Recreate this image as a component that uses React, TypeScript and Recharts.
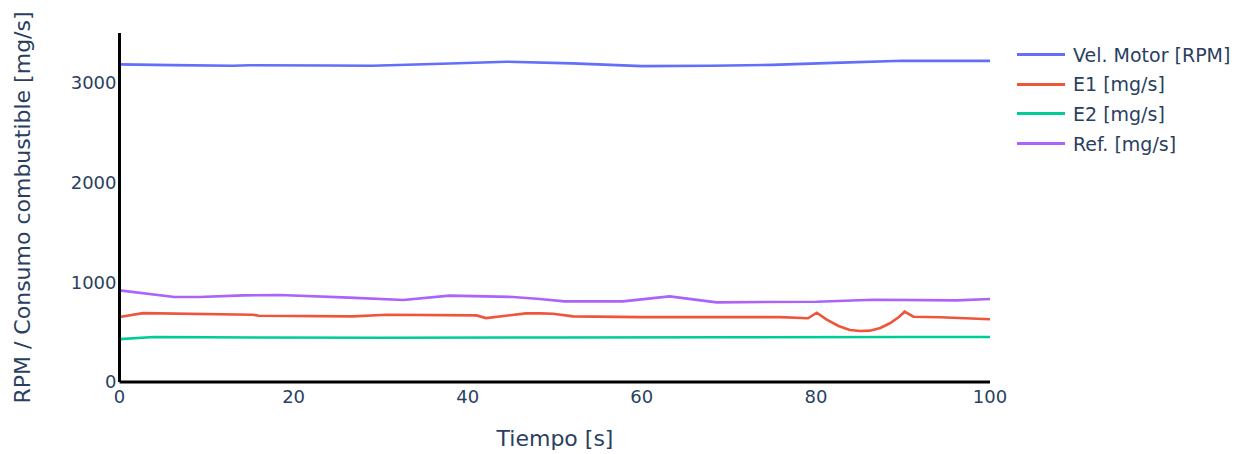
import { LineChart, Line, XAxis, YAxis, Label } from 'recharts';

// tiempo [s] y valores de cada serie
const velTime = [0, 6, 13, 15, 24, 29, 37, 44.5, 52, 60, 68, 75, 82, 90, 100];
const velValues = [3185, 3178, 3172, 3176, 3174, 3172, 3192, 3212, 3195, 3168, 3172, 3180, 3200, 3222, 3220];

const e1Time = [0, 2.7, 15.3, 16, 26.8, 30.7, 41, 42.1, 46.7, 48.3, 49.8, 52.1, 59.8, 75.9, 79.1, 80.1, 81.2, 82.6, 83.9, 85.1, 86.2, 87.4, 88.5, 89.5, 90.2, 91.2, 94.3, 100];
const e1Values = [651, 691, 675, 664, 658, 675, 668, 641, 688, 688, 685, 658, 651, 651, 639, 695, 629, 562, 522, 512, 515, 542, 589, 649, 705, 655, 649, 630];

const e2Time = [0, 4, 16, 30, 50, 70, 90, 100];
const e2Values = [430, 452, 446, 444, 447, 449, 451, 451];

const refTime = [0, 6.3, 9.2, 14.2, 18.4, 26.4, 32.6, 37.9, 45.2, 48.3, 51.1, 57.8, 63.2, 68.6, 80.1, 86.6, 96.2, 100];
const refValues = [919, 853, 853, 869, 872, 846, 822, 866, 853, 832, 809, 809, 859, 799, 805, 825, 819, 832];

const xTicks = [0, 20, 40, 60, 80, 100];
const yTicks = [0, 1000, 2000, 3000];

const toPoints = (time: number[], values: number[]) => time.map((t, i) => ({ t, v: values[i] }));

const series = [
  { name: 'Vel. Motor [RPM]', color: '#636efa', data: toPoints(velTime, velValues) },
  { name: 'E1 [mg/s]', color: '#ef553b', data: toPoints(e1Time, e1Values) },
  { name: 'E2 [mg/s]', color: '#00cc96', data: toPoints(e2Time, e2Values) },
  { name: 'Ref. [mg/s]', color: '#ab63fa', data: toPoints(refTime, refValues) },
];

const FONT = '"DejaVu Sans", Verdana, sans-serif';
const TEXT = '#2a3f5f';

export default function App() {
  return (
    <div style={{ position: 'absolute', left: 0, top: 0, width: 1244, height: 454, background: '#fff' }}>
      <LineChart width={1244} height={454} margin={{ top: 33, right: 254, bottom: 0, left: 0 }}>
        <XAxis
          dataKey="t"
          type="number"
          domain={[0, 100]}
          ticks={xTicks}
          interval={0}
          height={72}
          tickLine={false}
          tickSize={0}
          tickMargin={8}
          axisLine={{ stroke: '#000', strokeWidth: 3 }}
          tick={{ fill: TEXT, fontSize: 18, fontFamily: FONT }}
          allowDuplicatedCategory={false}
        >
          <Label
            content={() => (
              <text x={555} y={446} textAnchor="middle" fill={TEXT} fontSize={22} fontFamily={FONT}>
                Tiempo [s]
              </text>
            )}
          />
        </XAxis>
        <YAxis
          type="number"
          domain={[0, 3500]}
          ticks={yTicks}
          interval={0}
          width={119.5}
          tickLine={false}
          tickSize={0}
          tickMargin={3}
          axisLine={{ stroke: '#000', strokeWidth: 3 }}
          tick={{ fill: TEXT, fontSize: 18, fontFamily: FONT }}
        >
          <Label
            content={() => (
              <text
                x={22}
                y={207.5}
                transform="rotate(-90, 22, 207.5)"
                textAnchor="middle"
                dominantBaseline="central"
                fill={TEXT}
                fontSize={22}
                fontFamily={FONT}
              >
                RPM / Consumo combustible [mg/s]
              </text>
            )}
          />
        </YAxis>
        {series.map((s) => (
          <Line
            key={s.name}
            data={s.data}
            dataKey="v"
            name={s.name}
            type="linear"
            stroke={s.color}
            strokeWidth={2.6}
            dot={false}
            isAnimationActive={false}
          />
        ))}
      </LineChart>
      <div style={{ position: 'absolute', left: 1017, top: 40, fontFamily: FONT, fontSize: 19, color: TEXT }}>
        {series.map((s) => (
          <div key={s.name} style={{ display: 'flex', alignItems: 'center', height: 29.6, whiteSpace: 'nowrap' }}>
            <span style={{ display: 'inline-block', width: 48, height: 3, background: s.color, marginRight: 8 }} />
            <span>{s.name}</span>
          </div>
        ))}
      </div>
    </div>
  );
}
